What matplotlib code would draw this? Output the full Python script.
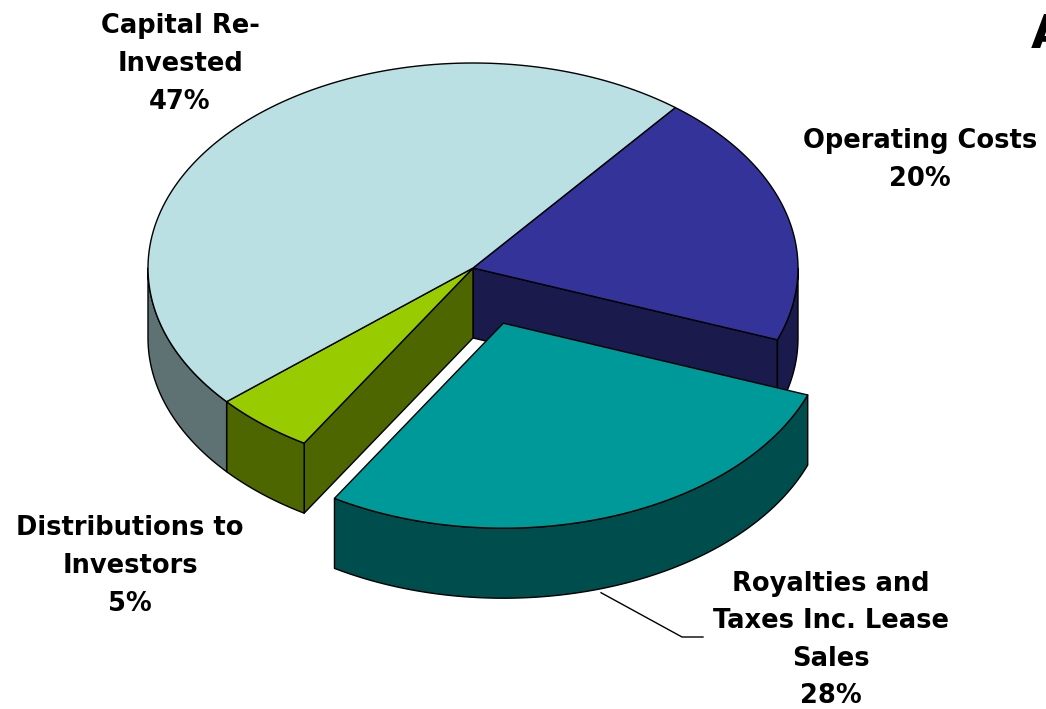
import numpy as np
import matplotlib.pyplot as plt
from matplotlib.patches import Polygon

# slice data, listed clockwise from the top-right boundary
labels = ['Operating Costs\n20%',
          'Royalties and\nTaxes Inc. Lease\nSales\n28%',
          'Distributions to\nInvestors\n5%',
          'Capital Re-\nInvested\n47%']
values = [20, 28, 5, 47]
explode = [0, 0.285, 0, 0]
top_colors = ['#333399', '#009999', '#99CC00', '#BBE0E3']
side_colors = ['#1A1A4D', '#004D4D', '#4D6600', '#5E7273']

# pie geometry in pixel space (y grows downwards)
cx, cy = 473, 268
rx, ry = 325, 205
depth = 70
start = 51.5

fig = plt.figure(figsize=(10.46, 7.09), dpi=100)
ax = fig.add_axes([0, 0, 1, 1])
ax.set_xlim(0, 1046)
ax.set_ylim(709, 0)
ax.axis('off')

total = float(sum(values))
spans = []
a = start
for v in values:
    b = a - 360.0 * v / total
    spans.append((b, a))  # (lo, hi) in degrees, counter-clockwise
    a = b


def pt(theta, ox, oy, dz=0.0):
    t = np.radians(theta)
    return np.column_stack([cx + ox + rx * np.cos(t), cy + oy - ry * np.sin(t) + dz])


def offset(i):
    lo, hi = spans[i]
    mid = np.radians((lo + hi) / 2)
    return explode[i] * rx * np.cos(mid), -explode[i] * ry * np.sin(mid)


def arc(lo, hi, n=120):
    return np.linspace(lo, hi, n)


def draw_slice(i, walls=True, top=True):
    lo, hi = spans[i]
    ox, oy = offset(i)
    kw = dict(edgecolor='black', linewidth=1.0, joinstyle='round')
    n = len(values)
    if walls:
        # radial faces that open up next to an exploded neighbour
        for ang, normal, nb in [(hi, hi + 90, (i - 1) % n), (lo, lo - 90, (i + 1) % n)]:
            if np.sin(np.radians(normal)) < 0 and (explode[nb] > 0) and explode[i] == 0:
                c = np.array([[cx + ox, cy + oy]])
                e = pt(ang, ox, oy)
                face = np.vstack([c, e, e + [0, depth], c + [0, depth]])
                ax.add_patch(Polygon(face, closed=True, facecolor=side_colors[i], **kw))
        # outer curved wall, front half only
        for base in (-360, 0):
            w_lo = max(lo, 180 + base)
            w_hi = min(hi, 360 + base)
            if w_hi > w_lo:
                th = arc(w_lo, w_hi)
                upper = pt(th, ox, oy)
                lower = pt(th[::-1], ox, oy, depth)
                ax.add_patch(Polygon(np.vstack([upper, lower]), closed=True,
                                     facecolor=side_colors[i], **kw))
    if top:
        th = arc(lo, hi)
        poly = np.vstack([[cx + ox, cy + oy], pt(th, ox, oy)])
        ax.add_patch(Polygon(poly, closed=True, facecolor=top_colors[i], **kw))


back = [i for i in range(len(values)) if explode[i] == 0]
front = [i for i in range(len(values)) if explode[i] > 0]
for i in back:
    draw_slice(i, walls=True, top=False)
for i in back:
    draw_slice(i, walls=False, top=True)
for i in front:
    draw_slice(i)

# labels
font = dict(fontsize=18.5, fontweight='bold', ha='center', va='center',
            linespacing=1.58, color='black', family='DejaVu Sans')
label_pos = [(920, 160), (831, 640), (130, 566), (180, 64)]
for lab, (x, y) in zip(labels, label_pos):
    ax.text(x, y, lab, **font)

# leader line for the exploded slice
ox, oy = offset(1)
p0 = pt(-72.5, ox, oy, depth)[0]
ax.plot([p0[0], 682, 703], [p0[1] + 4, 637, 637], color='black', linewidth=1.0)

# title (runs off the right edge)
ax.text(1031, 48, 'A', fontsize=34, fontweight='bold', ha='left', va='baseline')

fig.savefig('out.png', dpi=100)
